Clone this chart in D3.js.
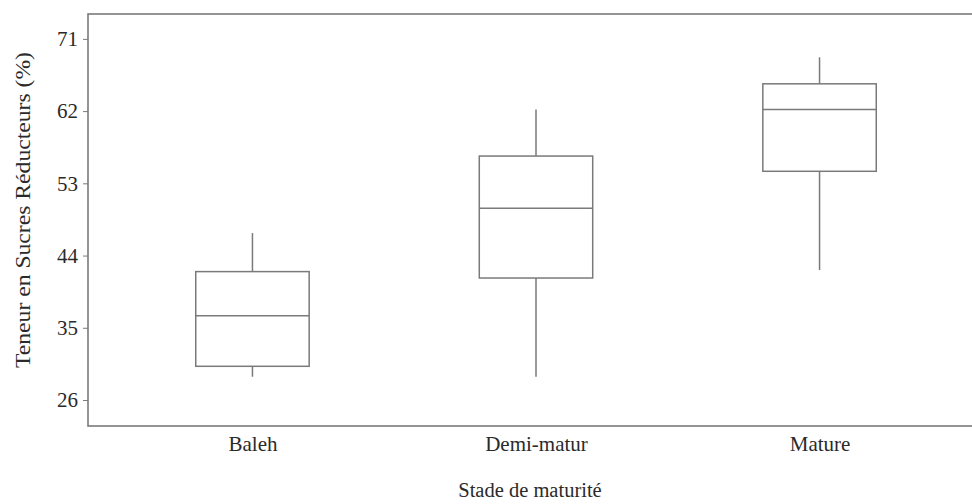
<!DOCTYPE html>
<html>
<head>
<meta charset="utf-8">
<script src="https://cdn.jsdelivr.net/npm/d3@7"></script>
<style>
  body { margin: 0; background: #fff; }
  svg text { font-family: "Liberation Serif", "Times New Roman", serif !important; fill: #2a2a2a; }
</style>
</head>
<body>
<svg id="chart" width="972" height="504"></svg>
<script>
// data
var categories = ['Baleh', 'Demi-matur', 'Mature'];
var whiskerLow = [28.9, 28.9, 42.2];
var q1 = [30.2, 41.2, 54.5];
var median = [36.5, 49.9, 62.2];
var q3 = [42.0, 56.4, 65.4];
var whiskerHigh = [46.8, 62.2, 68.7];
var yTicks = [26, 35, 44, 53, 62, 71];

var margin = { top: 14, left: 88, bottom: 78, right: -12 };
var width = 972, height = 504;

var svg = d3.select('#chart');
var g = svg.append('g');

var x = d3.scalePoint()
  .domain(categories)
  .range([margin.left, width - margin.right])
  .padding(0.58);

var y = d3.scaleLinear()
  .domain([22.76, 74.1])
  .range([height - margin.bottom, margin.top]);

var boxW = x.step() * 0.4;
var lineColor = '#7a7a7a';

// frame
g.append('rect')
  .attr('x', margin.left)
  .attr('y', margin.top)
  .attr('width', width - margin.right - margin.left)
  .attr('height', height - margin.bottom - margin.top)
  .attr('fill', 'none')
  .attr('stroke', lineColor)
  .attr('stroke-width', 1.6);

// y axis
var yAxis = g.append('g')
  .attr('transform', 'translate(' + margin.left + ',0)')
  .call(d3.axisLeft(y).tickValues(yTicks).tickSize(5).tickPadding(5));
yAxis.select('.domain').remove();
yAxis.selectAll('line').attr('stroke', lineColor);
yAxis.selectAll('text').attr('font-size', 21);

// x axis labels
var xAxis = g.append('g')
  .attr('transform', 'translate(0,' + (height - margin.bottom) + ')')
  .call(d3.axisBottom(x).tickSize(0).tickPadding(10));
xAxis.select('.domain').remove();
xAxis.selectAll('text').attr('font-size', 21);

// boxes
var idx = d3.range(categories.length);
var boxes = g.selectAll('.box').data(idx).enter().append('g').attr('class', 'box');

boxes.append('line')
  .attr('x1', function (i) { return x(categories[i]); })
  .attr('x2', function (i) { return x(categories[i]); })
  .attr('y1', function (i) { return y(whiskerHigh[i]); })
  .attr('y2', function (i) { return y(q3[i]); })
  .attr('stroke', lineColor).attr('stroke-width', 1.5);

boxes.append('line')
  .attr('x1', function (i) { return x(categories[i]); })
  .attr('x2', function (i) { return x(categories[i]); })
  .attr('y1', function (i) { return y(q1[i]); })
  .attr('y2', function (i) { return y(whiskerLow[i]); })
  .attr('stroke', lineColor).attr('stroke-width', 1.5);

boxes.append('rect')
  .attr('x', function (i) { return x(categories[i]) - boxW / 2; })
  .attr('y', function (i) { return y(q3[i]); })
  .attr('width', boxW)
  .attr('height', function (i) { return y(q1[i]) - y(q3[i]); })
  .attr('fill', 'none')
  .attr('stroke', lineColor).attr('stroke-width', 1.5);

boxes.append('line')
  .attr('x1', function (i) { return x(categories[i]) - boxW / 2; })
  .attr('x2', function (i) { return x(categories[i]) + boxW / 2; })
  .attr('y1', function (i) { return y(median[i]); })
  .attr('y2', function (i) { return y(median[i]); })
  .attr('stroke', lineColor).attr('stroke-width', 1.5);

// axis titles
g.append('text')
  .attr('x', 530)
  .attr('y', 497)
  .attr('text-anchor', 'middle')
  .attr('font-size', 20.5)
  .text('Stade de maturité');

g.append('text')
  .attr('transform', 'translate(30,' + 210 + ') rotate(-90)')
  .attr('text-anchor', 'middle')
  .attr('font-size', 20)
  .attr('textLength', 316)
  .attr('lengthAdjust', 'spacingAndGlyphs')
  .text('Teneur en Sucres Réducteurs (%)');
</script>
</body>
</html>
